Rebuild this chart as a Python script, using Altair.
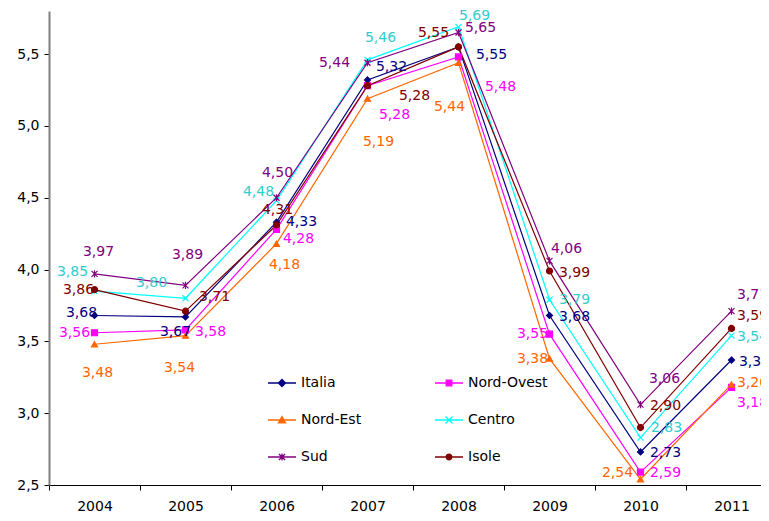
import altair as alt
import pandas as pd

years = [2004, 2005, 2006, 2007, 2008, 2009, 2010, 2011]
series_names = ["Italia", "Nord-Ovest", "Nord-Est", "Centro", "Sud", "Isole"]

italia = [3.68, 3.67, 4.33, 5.32, 5.55, 3.68, 2.73, 3.37]
nord_ovest = [3.56, 3.58, 4.28, 5.28, 5.48, 3.55, 2.59, 3.18]
nord_est = [3.48, 3.54, 4.18, 5.19, 5.44, 3.38, 2.54, 3.20]
centro = [3.85, 3.80, 4.48, 5.46, 5.69, 3.79, 2.83, 3.54]
sud = [3.97, 3.89, 4.50, 5.44, 5.65, 4.06, 3.06, 3.71]
isole = [3.86, 3.71, 4.31, 5.28, 5.55, 3.99, 2.90, 3.59]

values = {"Italia": italia, "Nord-Ovest": nord_ovest, "Nord-Est": nord_est,
          "Centro": centro, "Sud": sud, "Isole": isole}

# styles
line_colors = ["#000080", "#FF00FF", "#FF6600", "#00FFFF", "#800080", "#800000"]
label_colors = ["#000080", "#FF00FF", "#FF6600", "#33CCCC", "#800080", "#800000"]
marker_shapes = [
    "M0,-1L1,0L0,1L-1,0Z",
    "square",
    "triangle-up",
    "M-1,-1L1,1M-1,1L1,-1",
    "M-1,-1L1,1M-1,1L1,-1M0,-1.2L0,1.2",
    "circle",
]
legend_shapes = [
    "M-1,0L1,0M0,-0.25L0.25,0L0,0.25L-0.25,0Z",
    "M-1,0L1,0M-0.2,-0.2L0.2,-0.2L0.2,0.2L-0.2,0.2Z",
    "M-1,0L1,0M0,-0.25L0.25,0.2L-0.25,0.2Z",
    "M-1,0L1,0M-0.25,-0.25L0.25,0.25M-0.25,0.25L0.25,-0.25",
    "M-1,0L1,0M-0.22,-0.22L0.22,0.22M-0.22,0.22L0.22,-0.22M0,-0.25L0,0.25",
    "M-1,0L1,0M0.2,0A0.2,0.2 0 1,1 -0.2,0A0.2,0.2 0 1,1 0.2,0Z",
]
# legend fills column by column: order so rows read Italia|Nord-Ovest, Nord-Est|Centro, Sud|Isole
legend_order = [0, 2, 4, 1, 3, 5]

# label offsets in pixels (dx right, dy down)
label_dx = {
    "Italia": [-13, -10, 25, 24, 33, 25, 25, 23],
    "Nord-Ovest": [-20, 25, 22, 27, 42, -17, 25, 21],
    "Nord-Est": [3, -6, 8, 11, -9, -17, -23, 21],
    "Centro": [-22, -34, -18, 13, 16, 25, 26, 21],
    "Sud": [4, 2, 1, -33, 22, 17, 24, 21],
    "Isole": [-16, 29, 1, 47, -25, 25, 25, 21],
}
label_dy = {
    "Italia": [-3, 15, 0, -13, 8, 1, 1, 2],
    "Nord-Ovest": [0, 2, 10, 29, 30, 0, 1, 16],
    "Nord-Est": [29, 32, 21, 43, 44, 0, -6, -1],
    "Centro": [-19, -15, -9, -22, -11, 0, -10, 1],
    "Sud": [-22, -30, -25, 0, -5, -12, -26, -16],
    "Isole": [0, -14, -15, 10, -14, 2, -22, -12],
}

rows = []
for s in series_names:
    for i, yr in enumerate(years):
        rows.append({"series": s, "year": yr, "value": values[s][i],
                     "dx": label_dx[s][i], "dy": label_dy[s][i]})
df = pd.DataFrame(rows)

W, H = 712, 474
XDOM = [2003.5, 2003.5 + W / 91.0]
YDOM = [2.5, 5.8]
PX_PER_X = W / (XDOM[1] - XDOM[0])
PX_PER_Y = H / (YDOM[1] - YDOM[0])

FONT = "DejaVu Sans"

x_axis = alt.Axis(
    values=[2003.5, 2004.5, 2005.5, 2006.5, 2007.5, 2008.5, 2009.5, 2010.5],
    labelExpr="toString(datum.value + 0.5)",
    labelOffset=45.5, labelOverlap=False, labelBound=False, labelFlush=False,
    title=None, grid=False, tickSize=5, tickColor="#000000",
    domainColor="#000000", domainWidth=1, labelFont=FONT, labelFontSize=14,
    labelColor="#000000", labelPadding=9,
)
y_axis = alt.Axis(
    values=[2.5, 3.0, 3.5, 4.0, 4.5, 5.0, 5.5],
    labelExpr="replace(format(datum.value, '.1f'), '.', ',')",
    title=None, grid=False, tickSize=5, tickColor="#000000",
    domainColor="#808080", domainWidth=2, labelFont=FONT, labelFontSize=14,
    labelColor="#000000", labelPadding=5,
)

x_scale = alt.Scale(domain=XDOM, nice=False, zero=False)
y_scale = alt.Scale(domain=YDOM, nice=False, zero=False)
x_enc = alt.X("year:Q", scale=x_scale, axis=x_axis)
y_enc = alt.Y("value:Q", scale=y_scale, axis=y_axis)

base = alt.Chart(df)

lines = base.mark_line(strokeWidth=1.2).encode(
    x=x_enc, y=y_enc,
    color=alt.Color("series:N", scale=alt.Scale(domain=series_names, range=line_colors), legend=None),
    order="year:Q",
)

points = base.mark_point(filled=True, opacity=1, size=36, strokeWidth=1.2).encode(
    x=x_enc, y=y_enc,
    color=alt.Color("series:N", scale=alt.Scale(domain=series_names, range=line_colors), legend=None),
    stroke=alt.Stroke("series:N", scale=alt.Scale(domain=series_names, range=line_colors), legend=None),
    shape=alt.Shape("series:N", scale=alt.Scale(domain=series_names, range=marker_shapes), legend=None),
)

labels = base.transform_calculate(
    lx=f"datum.year + datum.dx / {PX_PER_X}",
    ly=f"datum.value - datum.dy / {PX_PER_Y}",
    lab="replace(format(datum.value, '.2f'), '.', ',')",
).mark_text(font=FONT, fontSize=14, align="center", baseline="middle").encode(
    x=alt.X("lx:Q", scale=x_scale, axis=x_axis),
    y=alt.Y("ly:Q", scale=y_scale, axis=y_axis),
    text="lab:N",
    color=alt.Color("series:N", scale=alt.Scale(domain=series_names, range=label_colors), legend=None),
)

leg_domain = [series_names[i] for i in legend_order]
leg_colors = [line_colors[i] for i in legend_order]
leg_shapes = [legend_shapes[i] for i in legend_order]

leg = dict(orient="none", legendX=218, legendY=357, columns=2, title=None,
           padding=0, labelFont=FONT, labelFontSize=14, labelColor="#000000",
           labelOffset=4, columnPadding=70, rowPadding=15, symbolStrokeWidth=1.3,
           symbolSize=784)

legend_layer = base.transform_filter("false").mark_point(
    filled=True, opacity=1, size=784, strokeWidth=1.3
).encode(
    x=x_enc, y=y_enc,
    color=alt.Color("series:N", scale=alt.Scale(domain=leg_domain, range=leg_colors), legend=alt.Legend(**leg)),
    stroke=alt.Stroke("series:N", scale=alt.Scale(domain=leg_domain, range=leg_colors), legend=alt.Legend(**leg)),
    shape=alt.Shape("series:N", scale=alt.Scale(domain=leg_domain, range=leg_shapes), legend=alt.Legend(**leg)),
)

chart = alt.layer(lines, points, labels, legend_layer).resolve_scale(
    color="independent", stroke="independent", shape="independent"
).properties(
    width=W, height=H,
    autosize=alt.AutoSizeParams(type="none"),
    padding={"left": 41, "top": 3, "right": 0, "bottom": 30},
    background="white",
).configure_view(stroke=None)

chart.save("out.html", embed_options={"renderer": "svg", "actions": False})
